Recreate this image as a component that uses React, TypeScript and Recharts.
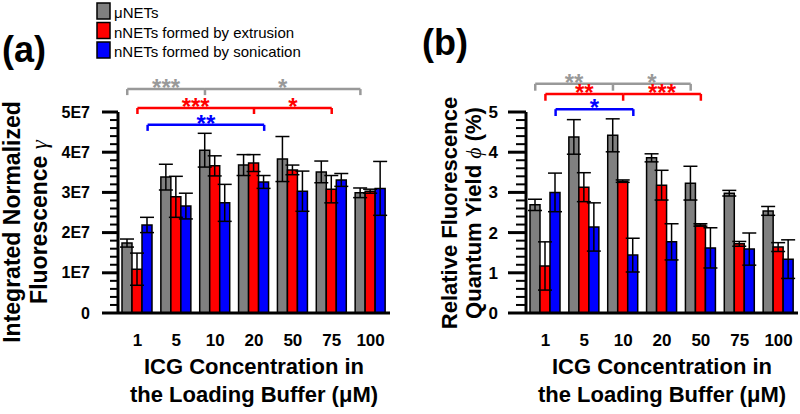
import { Bar, BarChart, ErrorBar, ReferenceLine, XAxis, YAxis } from "recharts";

const FONT = "'Liberation Sans', Arial, sans-serif";

const CONC = ["1", "5", "10", "20", "50", "75", "100"];

// (a) integrated normalized fluorescence
const UNET_A = [1.74e7, 3.38e7, 4.05e7, 3.68e7, 3.83e7, 3.51e7, 2.99e7];
const UNET_A_ERR = [0.1e7, 0.32e7, 0.42e7, 0.26e7, 0.56e7, 0.27e7, 0.12e7];
const EXT_A = [1.09e7, 2.89e7, 3.66e7, 3.73e7, 3.56e7, 3.08e7, 3.03e7];
const EXT_A_ERR = [0.4e7, 0.51e7, 0.25e7, 0.21e7, 0.12e7, 0.34e7, 0.05e7];
const SON_A = [2.19e7, 2.66e7, 2.74e7, 3.26e7, 3.03e7, 3.31e7, 3.1e7];
const SON_A_ERR = [0.19e7, 0.32e7, 0.46e7, 0.16e7, 0.5e7, 0.16e7, 0.67e7];

// (b) relative quantum yield (%)
const UNET_B = [2.69, 4.38, 4.42, 3.86, 3.23, 2.98, 2.54];
const UNET_B_ERR = [0.14, 0.43, 0.41, 0.1, 0.42, 0.07, 0.11];
const EXT_B = [1.17, 3.13, 3.28, 3.18, 2.19, 1.72, 1.64];
const EXT_B_ERR = [0.6, 0.36, 0.03, 0.37, 0.03, 0.06, 0.11];
const SON_B = [3.0, 2.14, 1.44, 1.77, 1.62, 1.59, 1.34];
const SON_B_ERR = [0.48, 0.6, 0.42, 0.45, 0.5, 0.4, 0.48];

const Y_TICKS_A = [0, 1e7, 2e7, 3e7, 4e7, 5e7];
const Y_LABELS_A = ["0", "1E7", "2E7", "3E7", "4E7", "5E7"];
const Y_TICKS_B = [0, 1, 2, 3, 4, 5];
const Y_LABELS_B = ["0", "1", "2", "3", "4", "5"];

const SERIES = ["μNETs", "nNETs formed by extrusion", "nNETs formed by sonication"];

const GRAY = "#808080";
const GRAY_LINE = "#999999";
const RED = "#ff0000";
const BLUE = "#0000ff";

// significance brackets: [group, series] of left end, middle, right end
const BRACKETS_A = [
  { color: GRAY_LINE, y: 5.57e7, ends: [[0, 0], [2, 0], [6, 0]], stars: ["***", "*"] },
  { color: RED, y: 5.1e7, ends: [[0, 1], [3, 1], [5, 1]], stars: ["***", "*"] },
  { color: BLUE, y: 4.68e7, ends: [[0, 2], [3, 2]], stars: ["**"] },
];
const BRACKETS_B = [
  { color: GRAY_LINE, y: 5.7, ends: [[0, 0], [2, 0], [4, 0]], stars: ["**", "*"] },
  { color: RED, y: 5.45, ends: [[0, 1], [2, 1], [4, 1]], stars: ["**", "***"] },
  { color: BLUE, y: 5.07, ends: [[0, 2], [2, 2]], stars: ["*"] },
];

const BAR_OFF = 0.262; // bar width / category width
const POS_TICKS = [0, 1, 2, 3, 4, 5, 6, 7];

const rows = (u: number[], ue: number[], e: number[], ee: number[], s: number[], se: number[]) =>
  CONC.map((c, i) => ({ conc: c, pos: i + 0.5, unet: u[i], unetErr: ue[i], ext: e[i], extErr: ee[i], son: s[i], sonErr: se[i] }));

const dataA = rows(UNET_A, UNET_A_ERR, EXT_A, EXT_A_ERR, SON_A, SON_A_ERR);
const dataB = rows(UNET_B, UNET_B_ERR, EXT_B, EXT_B_ERR, SON_B, SON_B_ERR);

const minorTicks = (max: number) => Array.from({ length: 26 }, (_, i) => (max * i) / 25);

function XTick(props: any) {
  const { x, y, payload } = props;
  return (
    <text x={x} y={y + 33} textAnchor="middle" fontSize={17} fontWeight="bold" fontFamily={FONT} fill="#000">
      {payload.value}
    </text>
  );
}

function makeYTick(majors: number[], labels: string[], major: number, minor: number, gap: number, fs: number) {
  return (props: any) => {
    const { x, y, payload } = props;
    const idx = majors.findIndex((m) => Math.abs(m - payload.value) < majors[1] * 1e-3);
    const len = idx >= 0 ? major : minor;
    return (
      <g>
        <line x1={x - len} x2={x} y1={y} y2={y} stroke="#000" strokeWidth={idx >= 0 ? 3 : 2} />
        {idx >= 0 && (
          <text x={x - major - gap} y={y} dy="0.35em" textAnchor="end" fontSize={fs} fontWeight="bold" fontFamily={FONT} fill="#000">
            {labels[idx]}
          </text>
        )}
      </g>
    );
  };
}

function brackets(list: typeof BRACKETS_A, drop: number) {
  const pos = ([g, s]: number[]) => g + 0.5 + (s - 1) * BAR_OFF;
  const out: any[] = [];
  list.forEach((b, bi) => {
    const xs = b.ends.map(pos);
    xs.forEach((x, i) => {
      out.push(
        <ReferenceLine
          key={`v${bi}-${i}`}
          xAxisId="n"
          ifOverflow="visible"
          segment={[{ x, y: b.y }, { x, y: b.y - drop }]}
          stroke={b.color}
          strokeWidth={2.5}
        />
      );
      if (i < xs.length - 1) {
        out.push(
          <ReferenceLine
            key={`h${bi}-${i}`}
            xAxisId="n"
            ifOverflow="visible"
            segment={[{ x, y: b.y }, { x: xs[i + 1], y: b.y }]}
            stroke={b.color}
            strokeWidth={2.5}
            label={{ value: b.stars[i], position: "top", offset: -7, fill: b.color, fontSize: 24, fontWeight: "bold", fontFamily: FONT }}
          />
        );
      }
    });
  });
  return out;
}

function Panel({ data, yMax, ticks, labels, marginLeft, marginRight, major, minor, gap, fs, list, drop }: any) {
  return (
    <BarChart
      width={400}
      height={414}
      data={data}
      margin={{ top: 112, right: marginRight, bottom: 71, left: marginLeft }}
      barCategoryGap={4}
      barGap={0}
    >
      <XAxis
        dataKey="conc"
        height={30}
        interval={0}
        tickLine={false}
        tickSize={0}
        tickMargin={0}
        tick={<XTick />}
        axisLine={{ stroke: "#000", strokeWidth: 3 }}
      />
      <XAxis
        xAxisId="n"
        dataKey="pos"
        type="number"
        scale="linear"
        domain={[0, 7]}
        ticks={POS_TICKS}
        tickCount={8}
        allowDataOverflow
        hide
      />
      <YAxis
        width={40}
        domain={[0, yMax]}
        ticks={minorTicks(yMax)}
        interval={0}
        allowDataOverflow
        tickLine={false}
        tickSize={0}
        tickMargin={0}
        tick={makeYTick(ticks, labels, major, minor, gap, fs)}
        axisLine={{ stroke: "#000", strokeWidth: 3 }}
      />
      <Bar dataKey="unet" fill={GRAY} stroke="#000" strokeWidth={1.5} isAnimationActive={false}>
        <ErrorBar dataKey="unetErr" width={7} stroke="#000" strokeWidth={1.5} />
      </Bar>
      <Bar dataKey="ext" fill={RED} stroke="#000" strokeWidth={1.5} isAnimationActive={false}>
        <ErrorBar dataKey="extErr" width={7} stroke="#000" strokeWidth={1.5} />
      </Bar>
      <Bar dataKey="son" fill={BLUE} stroke="#000" strokeWidth={1.5} isAnimationActive={false}>
        <ErrorBar dataKey="sonErr" width={7} stroke="#000" strokeWidth={1.5} />
      </Bar>
      {brackets(list, drop)}
    </BarChart>
  );
}

export default function App() {
  const t = { fontFamily: FONT, fontWeight: "bold" as const, fill: "#000" };
  return (
    <div style={{ position: "absolute", left: 0, top: 0, width: 800, height: 414, background: "#fff", overflow: "hidden" }}>
      <div style={{ position: "absolute", left: 0, top: 0 }}>
        <Panel data={dataA} yMax={5e7} ticks={Y_TICKS_A} labels={Y_LABELS_A} marginLeft={78} marginRight={10}
          major={16} minor={8} gap={12} fs={16} list={BRACKETS_A} drop={0.15e7} />
      </div>
      <div style={{ position: "absolute", left: 400, top: 0 }}>
        <Panel data={dataB} yMax={5} ticks={Y_TICKS_B} labels={Y_LABELS_B} marginLeft={86} marginRight={2}
          major={18} minor={10} gap={10} fs={17} list={BRACKETS_B} drop={0.17} />
      </div>
      <svg width={800} height={414} style={{ position: "absolute", left: 0, top: 0, pointerEvents: "none" }}>
        {/* legend */}
        {[GRAY, RED, BLUE].map((c, i) => (
          <g key={i}>
            <rect x={97} y={3 + i * 19.5} width={13} height={16} fill={c} stroke="#000" strokeWidth={1.5} />
            <text x={114} y={18 + i * 19.5} fontSize={15} fontFamily={FONT} fill="#000">{SERIES[i]}</text>
          </g>
        ))}
        <text x={2} y={62} fontSize={36} {...t}>(a)</text>
        <text x={468} y={55} fontSize={36} textAnchor="end" {...t}>(b)</text>
        {/* y titles */}
        <text transform="translate(20,222) rotate(-90)" textAnchor="middle" fontSize={23} {...t}>Integrated Normalized</text>
        <text transform="translate(47,222) rotate(-90)" textAnchor="middle" fontSize={23} {...t}>
          Fluorescence <tspan fontStyle="italic" fontWeight="normal" fontFamily="'Liberation Serif', serif">γ</tspan>
        </text>
        <text transform="translate(457,213) rotate(-90)" textAnchor="middle" fontSize={22} {...t}>Relative Fluorescence</text>
        <text transform="translate(481,213) rotate(-90)" textAnchor="middle" fontSize={22} {...t}>
          Quantum Yield <tspan fontStyle="italic" fontWeight="normal" fontFamily="'Liberation Serif', serif">ϕ</tspan> (%)
        </text>
        {/* x titles */}
        <text x={254} y={374} textAnchor="middle" fontSize={22} {...t}>ICG Concentration in</text>
        <text x={254} y={402} textAnchor="middle" fontSize={22} {...t}>the Loading Buffer (μM)</text>
        <text x={662} y={374} textAnchor="middle" fontSize={22} {...t}>ICG Concentration in</text>
        <text x={662} y={402} textAnchor="middle" fontSize={22} {...t}>the Loading Buffer (μM)</text>
      </svg>
    </div>
  );
}
